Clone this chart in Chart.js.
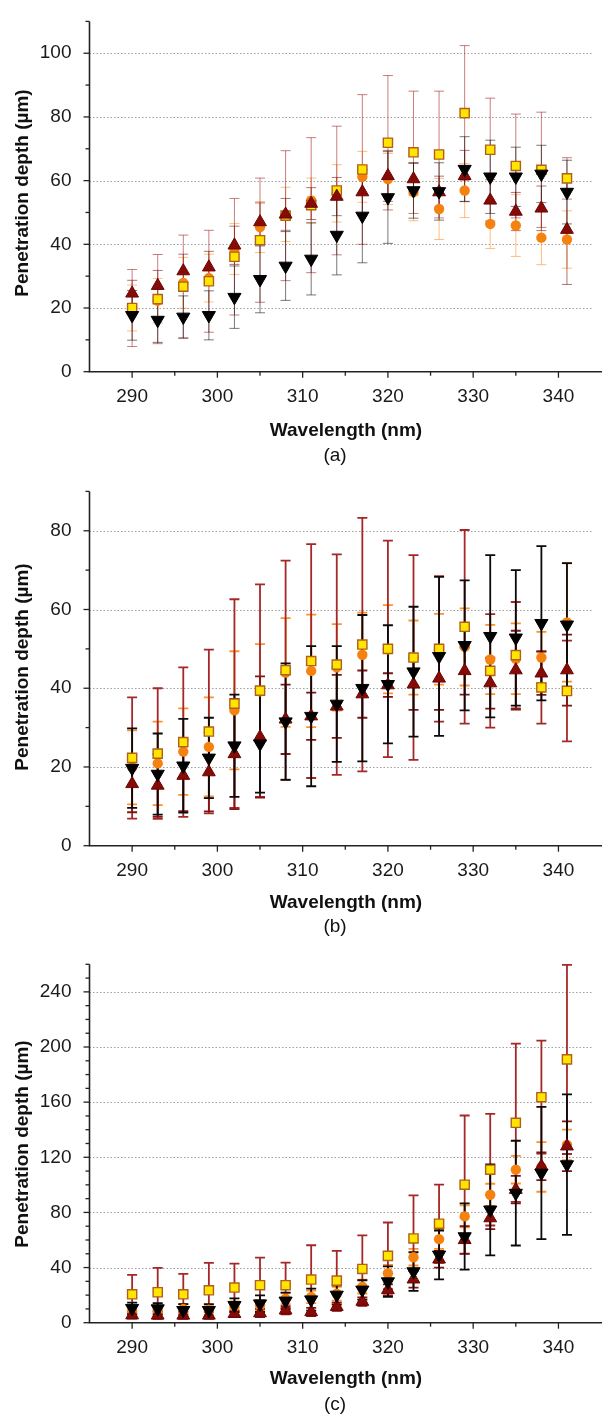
<!DOCTYPE html>
<html><head><meta charset="utf-8">
<script src="https://cdn.jsdelivr.net/npm/chart.js@4.4.1/dist/chart.umd.min.js"></script>
<style>
html,body{margin:0;padding:0;background:#fff;}
body{width:602px;height:1414px;position:relative;overflow:hidden;font-family:"Liberation Sans",Arial,sans-serif;color:#111;}
.panel{position:absolute;left:0;width:602px;}
.panel canvas{display:block;}
.ytitle{position:absolute;font-weight:bold;font-size:19px;white-space:nowrap;transform:translate(-50%,-50%) rotate(-90deg);}
.xtitle{position:absolute;font-weight:bold;font-size:19px;white-space:nowrap;transform:translate(-50%,-50%);}
.plabel{position:absolute;font-size:19px;white-space:nowrap;transform:translate(-50%,-50%);}
</style></head>
<body>
<div class="panel" style="top:0;height:470px"><canvas id="ca" width="602" height="470"></canvas></div>
<div class="panel" style="top:470px;height:470px"><canvas id="cb" width="602" height="470"></canvas></div>
<div class="panel" style="top:940px;height:474px"><canvas id="cc" width="602" height="474"></canvas></div>

<div class="ytitle" style="left:21.5px;top:193px">Penetration depth (µm)</div>
<div class="xtitle" style="left:346px;top:430px">Wavelength (nm)</div>
<div class="plabel" style="left:335px;top:455px">(a)</div>
<div class="ytitle" style="left:21.5px;top:666.5px">Penetration depth (µm)</div>
<div class="xtitle" style="left:346px;top:902px">Wavelength (nm)</div>
<div class="plabel" style="left:335px;top:926px">(b)</div>
<div class="ytitle" style="left:21.5px;top:1143.5px">Penetration depth (µm)</div>
<div class="xtitle" style="left:346px;top:1378px">Wavelength (nm)</div>
<div class="plabel" style="left:335px;top:1404px">(c)</div>

<script>
// ---------- data ----------
const wavelengths = [290,293,296,299,302,305,308,311,314,317,320,323,326,329,332,335,338,341];
const xTicks = [290,300,310,320,330,340];
const yTicksA = [0,20,40,60,80,100];
const yTicksB = [0,20,40,60,80];
const yTicksC = [0,40,80,120,160,200,240];

// panel (a)
const squareA    = [20.0,22.8,26.7,28.4,36.1,41.3,49.0,52.3,56.9,63.5,71.9,68.9,68.2,81.2,69.7,64.6,63.4,60.7];
const squareErrA = [12.1,14.0,16.2,16.0,18.3,19.5,20.4,21.2,20.2,23.5,21.1,19.2,19.9,21.2,16.2,16.3,18.1,6.5];
const circleA    = [20.0,22.3,27.9,29.4,38.5,45.4,49.4,53.8,56.0,61.2,60.5,56.4,51.1,56.9,46.4,45.9,42.1,41.5];
const circleErrA = [7.2,7.0,8.0,7.5,8.0,8.0,8.5,7.0,9.0,8.0,8.0,9.0,9.6,8.5,7.7,9.7,8.5,9.0];
const upA        = [24.6,27.0,31.6,32.8,39.7,47.0,49.4,52.8,55.0,56.4,61.5,60.5,56.4,61.5,53.8,50.3,51.3,44.6];
const upErrA     = [4.1,4.8,5.3,5.0,6.0,6.0,5.0,5.0,6.0,7.0,8.0,5.0,5.0,8.0,6.5,6.0,7.0,17.2];
const downA      = [17.7,16.2,17.2,17.7,23.4,29.0,33.2,35.4,42.9,48.9,54.7,56.9,56.6,63.6,61.2,61.2,62.1,56.4];
const downErrA   = [7.8,7.0,6.6,7.7,9.8,10.5,10.8,11.3,12.5,14.7,14.4,8.7,9.0,10.2,11.5,9.3,9.0,10.0];

// panel (b)
const squareB    = [22.3,23.4,26.3,29.0,36.1,39.4,44.6,46.9,46.0,51.1,50.0,47.8,50.0,55.6,44.4,48.4,40.2,39.3];
const squareErrB = [15.4,16.6,19.0,20.8,26.5,27.0,27.8,29.7,28.0,32.2,27.5,26.0,18.5,24.6,14.4,13.5,9.2,12.8];
const circleB    = [19.9,20.9,23.9,25.1,34.4,39.2,44.0,44.4,45.3,48.5,49.9,47.8,49.9,50.5,47.3,47.5,47.8,56.7];
const circleErrB = [9.4,10.6,11.0,12.6,15.0,12.0,13.8,14.3,11.0,10.7,11.2,9.4,9.0,9.8,8.8,9.0,6.5,15.0];
const upB        = [15.7,15.3,17.8,18.7,23.3,27.6,32.1,32.9,35.4,38.5,40.8,41.0,42.5,44.4,41.3,44.6,43.8,44.6];
const upErrB     = [7.2,8.0,9.0,10.0,14.0,15.4,8.8,6.0,8.0,6.0,3.0,6.5,8.0,6.0,6.5,10.0,5.5,9.0];
const downB      = [19.7,18.2,20.3,22.3,25.4,25.9,31.5,32.9,36.0,40.0,41.0,44.2,48.1,50.9,53.2,52.8,56.5,56.1];
const downErrB   = [10.1,10.3,11.9,10.2,13.0,12.4,14.8,17.8,14.7,18.6,15.0,16.5,20.2,16.5,20.6,17.2,19.6,15.7];

// panel (c)
const squareC    = [20.6,22.1,20.6,23.5,25.5,27.2,27.2,31.3,30.5,39.0,48.5,61.1,71.8,100.1,111.0,145.0,163.6,191.0];
const squareErrC = [14.1,17.7,14.8,19.9,17.4,20.0,16.4,24.9,21.6,24.3,24.2,31.3,28.3,50.2,40.5,57.4,41.0,68.6];
const circleC    = [8.5,9.0,10.0,9.5,11.4,12.6,17.5,18.7,21.0,26.2,35.9,47.5,60.6,77.1,92.8,111.0,113.0,129.0];
const circleErrC = [3.0,3.5,3.5,3.5,4.0,4.0,4.0,4.5,5.0,5.0,6.0,6.0,7.0,8.0,8.0,10.0,18.0,11.0];
const upC        = [5.5,5.3,5.3,5.3,6.5,7.0,9.0,7.8,11.6,15.3,23.8,31.5,46.0,60.1,75.9,96.5,113.5,128.0];
const upErrC     = [2.5,2.5,2.5,2.5,2.5,3.0,3.0,3.0,3.0,3.0,4.0,6.0,6.0,10.0,8.0,10.0,10.0,18.0];
const downC      = [10.5,10.2,9.0,9.0,12.6,13.8,15.8,16.7,20.1,23.8,29.8,37.1,49.2,62.5,81.9,94.0,108.6,114.7];
const downErrC   = [4.0,4.0,4.5,4.5,5.0,6.0,6.0,8.0,7.0,7.0,11.0,14.0,17.7,24.0,33.0,38.0,48.0,51.0];

// ---------- drawing ----------
const FONT = '"Liberation Sans", Arial, sans-serif';

function pts(vals){ return wavelengths.map((w,i)=>({x:w,y:vals[i]})); }

function makeDatasets(sq,sqE,ci,ciE,up,upE,dn,dnE,light){
  const a = light ? 0.6 : 1;
  return [
    {label:'down', data:pts(dn), errors:dnE, errColor:`rgba(10,10,10,${light?0.55:1})`, order:1,
     pointStyle:'triangle', rotation:180, pointRadius:7.6, backgroundColor:'#000', borderColor:'#000', borderWidth:1},
    {label:'up', data:pts(up), errors:upE, errColor:`rgba(130,20,20,${a})`, order:2,
     pointStyle:'triangle', pointRadius:7.4, backgroundColor:'#860a06', borderColor:'#6a0604', borderWidth:1},
    {label:'square', data:pts(sq), errors:sqE, errColor:`rgba(165,40,40,${a})`, order:3,
     pointStyle:'rect', pointRadius:6.5, backgroundColor:'#ffe500', borderColor:'#b0601a', borderWidth:1.4},
    {label:'circle', data:pts(ci), errors:ciE, errColor:`rgba(255,145,40,${a})`, order:4,
     pointStyle:'circle', pointRadius:5.2, backgroundColor:'#f5820f', borderColor:'#f5820f', borderWidth:0}
  ];
}

function axesPlugin(yTicks, minorStep, lw){
  return {
    id:'customAxes',
    beforeDatasetsDraw(chart){
      const {ctx, chartArea:ca, scales:{x,y}} = chart;
      ctx.save();
      ctx.strokeStyle = '#a0a0a0'; ctx.lineWidth = 1; ctx.setLineDash([1.5,2]);
      yTicks.forEach(v=>{
        if (v===0) return;
        const py = Math.round(y.getPixelForValue(v))+0.5;
        ctx.beginPath(); ctx.moveTo(ca.left, py); ctx.lineTo(ca.right, py); ctx.stroke();
      });
      ctx.setLineDash([]);
      const metas = chart.data.datasets.map((d,i)=>({d,i})).sort((p,q)=>q.d.order-p.d.order);
      metas.forEach(({d})=>{
        ctx.strokeStyle = d.errColor; ctx.lineWidth = lw;
        d.data.forEach((p,k)=>{
          const e = d.errors[k];
          const px = x.getPixelForValue(p.x);
          const y1 = y.getPixelForValue(p.y + e), y0 = y.getPixelForValue(p.y - e);
          ctx.beginPath();
          ctx.moveTo(px, y1); ctx.lineTo(px, y0);
          ctx.moveTo(px-5, y1); ctx.lineTo(px+5, y1);
          ctx.moveTo(px-5, y0); ctx.lineTo(px+5, y0);
          ctx.stroke();
        });
      });
      ctx.restore();
    },
    afterDatasetsDraw(chart){
      const {ctx, chartArea:ca, scales:{x,y}} = chart;
      ctx.save();
      ctx.strokeStyle = '#222'; ctx.lineWidth = 1.6;
      ctx.beginPath();
      ctx.moveTo(ca.left, ca.top); ctx.lineTo(ca.left, ca.bottom); ctx.lineTo(chart.width, ca.bottom);
      ctx.stroke();
      ctx.lineWidth = 1.3;
      const ymax = y.max;
      for (let v = 0; v <= ymax + 1e-6; v += minorStep){
        const py = y.getPixelForValue(v);
        const major = yTicks.includes(v);
        ctx.beginPath(); ctx.moveTo(ca.left - (major?6:4), py); ctx.lineTo(ca.left, py); ctx.stroke();
      }
      for (let v = 285; v <= x.max; v += 5){
        if (v === 285) continue;
        const px = x.getPixelForValue(v);
        const major = xTicks.includes(v);
        ctx.beginPath(); ctx.moveTo(px, ca.bottom); ctx.lineTo(px, ca.bottom + (major?6:4)); ctx.stroke();
      }
      ctx.restore();
    }
  };
}

function buildChart(id, datasets, yTicks, yMax, minorStep, padTop, xAxisH, lw){
  return new Chart(document.getElementById(id), {
    type:'scatter',
    data:{datasets},
    options:{
      responsive:false, animation:false, devicePixelRatio:1,
      layout:{padding:{top:padTop,left:0,right:0,bottom:0}},
      plugins:{legend:{display:false}, tooltip:{enabled:false}},
      elements:{point:{hoverRadius:0}},
      datasets:{scatter:{clip:false}},
      scales:{
        x:{type:'linear', min:285, max:344.1,
           grid:{display:false}, border:{display:false},
           afterFit(s){ s.height = xAxisH; },
           afterBuildTicks(s){ s.ticks = xTicks.map(v=>({value:v})); },
           ticks:{font:{family:FONT,size:19}, color:'#1a1a1a', padding:6, maxRotation:0, autoSkip:false}},
        y:{type:'linear', min:0, max:yMax,
           grid:{display:false}, border:{display:false},
           afterFit(s){ s.width = 89.5; },
           afterBuildTicks(s){ s.ticks = yTicks.map(v=>({value:v})); },
           ticks:{font:{family:FONT,size:19}, color:'#1a1a1a', padding:10, autoSkip:false}}
      }
    },
    plugins:[axesPlugin(yTicks, minorStep, lw)]
  });
}

buildChart('ca', makeDatasets(squareA,squareErrA,circleA,circleErrA,upA,upErrA,downA,downErrA,true),
  yTicksA, 110, 10, 14, 98.3, 1);
buildChart('cb', makeDatasets(squareB,squareErrB,circleB,circleErrB,upB,upErrB,downB,downErrB,false),
  yTicksB, 90, 10, 17.3, 94.3, 1.8);
buildChart('cc', makeDatasets(squareC,squareErrC,circleC,circleErrC,upC,upErrC,downC,downErrC,false),
  yTicksC, 260, 10, 24.3, 91.3, 1.8);
</script>
</body></html>
